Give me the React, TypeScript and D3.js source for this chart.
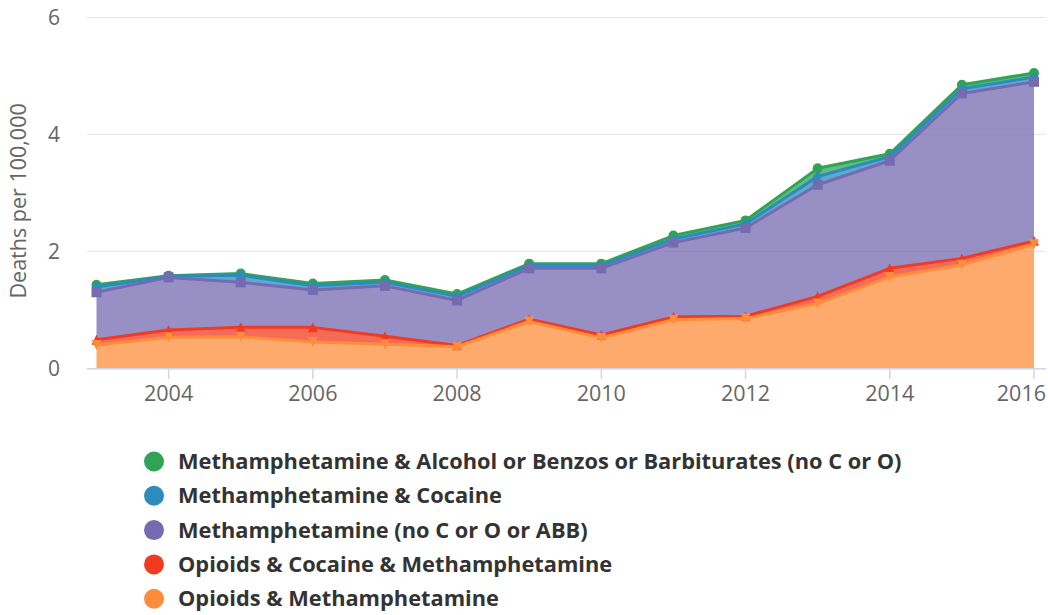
import React from "react";
import * as d3 from "d3";

const years = [2003, 2004, 2005, 2006, 2007, 2008, 2009, 2010, 2011, 2012, 2013, 2014, 2015, 2016];

// individual (non-cumulative) values, deaths per 100,000
const methAlcBenzBarb = [0.04, 0.01, 0.03, 0.04, 0.04, 0.04, 0.03, 0.03, 0.06, 0.06, 0.14, 0.05, 0.07, 0.07];
const methCocaine = [0.09, 0.02, 0.12, 0.07, 0.06, 0.07, 0.05, 0.05, 0.06, 0.07, 0.14, 0.07, 0.08, 0.08];
const methOnly = [0.81, 0.9, 0.77, 0.64, 0.86, 0.77, 0.87, 1.14, 1.27, 1.51, 1.91, 1.84, 2.82, 2.72];
const opioidsCocaineMeth = [0.09, 0.125, 0.16, 0.25, 0.14, 0.02, 0.04, 0.05, 0.05, 0.04, 0.12, 0.15, 0.11, 0.06];
const opioidsMeth = [0.4, 0.53, 0.54, 0.45, 0.41, 0.37, 0.8, 0.52, 0.83, 0.85, 1.11, 1.56, 1.77, 2.12];

const yTicks = [0, 2, 4, 6];
const xTicks = [2004, 2006, 2008, 2010, 2012, 2014, 2016];

type Sym = "circle" | "diamond" | "square" | "triangle" | "triangle-down";

// legend order (top of stack first)
const seriesDefs: { name: string; color: string; values: number[]; symbol: Sym }[] = [
  { name: "Methamphetamine & Alcohol or Benzos or Barbiturates (no C or O)", color: "#31a354", values: methAlcBenzBarb, symbol: "circle" },
  { name: "Methamphetamine & Cocaine", color: "#2b8cbe", values: methCocaine, symbol: "diamond" },
  { name: "Methamphetamine (no C or O or ABB)", color: "#756bb1", values: methOnly, symbol: "square" },
  { name: "Opioids & Cocaine & Methamphetamine", color: "#f03b20", values: opioidsCocaineMeth, symbol: "triangle" },
  { name: "Opioids & Methamphetamine", color: "#fd8d3c", values: opioidsMeth, symbol: "triangle-down" },
];

function symbolPath(s: Sym, cx: number, cy: number, r: number): string {
  switch (s) {
    case "circle":
      return `M${cx - r},${cy}A${r},${r} 0 1,0 ${cx + r},${cy}A${r},${r} 0 1,0 ${cx - r},${cy}Z`;
    case "diamond":
      return `M${cx},${cy - r}L${cx + r},${cy}L${cx},${cy + r}L${cx - r},${cy}Z`;
    case "square":
      return `M${cx - r},${cy - r}H${cx + r}V${cy + r}H${cx - r}Z`;
    case "triangle":
      return `M${cx},${cy - r}L${cx + r},${cy + r}L${cx - r},${cy + r}Z`;
    case "triangle-down":
      return `M${cx - r},${cy - r}L${cx + r},${cy - r}L${cx},${cy + r}Z`;
  }
}

export default function App() {
  const W = 1048;
  const H = 615;
  const plotLeft = 87;
  const plotRight = 1046;
  const x = d3.scaleLinear().domain([2003, 2016]).range([96.5, 1034]);
  const y = d3.scaleLinear().domain([0, 6]).range([368.3, 17.5]);

  const rows = years.map((yr, i) => {
    const r: any = { year: yr };
    seriesDefs.forEach((s, k) => (r["s" + k] = s.values[i]));
    return r;
  });
  const keys = seriesDefs.map((_, k) => "s" + k).reverse();
  const stacked = d3.stack<any>().keys(keys)(rows);
  const stackByKey: Record<string, d3.Series<any, string>> = {};
  stacked.forEach((s) => (stackByKey[s.key] = s));

  const area = d3
    .area<any>()
    .x((d) => x(d.data.year))
    .y0((d) => y(d[0]))
    .y1((d) => y(d[1]));
  const line = d3
    .line<any>()
    .x((d) => x(d.data.year))
    .y((d) => y(d[1]));

  const font = "'Open Sans', 'DejaVu Sans', sans-serif";

  return (
    <svg width={W} height={H} style={{ position: "absolute", left: 0, top: 0, background: "#fff" }} fontFamily={font}>
      {yTicks.filter((t) => t !== 0).map((t) => (
        <line key={t} x1={plotLeft} x2={plotRight} y1={y(t)} y2={y(t)} stroke="#e6e6e6" strokeWidth={1} />
      ))}
      {yTicks.map((t) => (
        <text key={t} x={60} y={y(t)} dy="0.35em" textAnchor="end" fontSize={21} fill="#666">
          {t}
        </text>
      ))}
      <text
        transform={`translate(26,${(y(0) + y(6)) / 2 + 8}) rotate(-90)`}
        textAnchor="middle"
        fontSize={21.5}
        fill="#666"
      >
        Deaths per 100,000
      </text>

      {seriesDefs.map((s, k) => {
        const st = stackByKey["s" + k];
        return (
          <g key={k}>
            <path d={area(st as any) || ""} fill={s.color} fillOpacity={0.75} />
            <path d={line(st as any) || ""} fill="none" stroke={s.color} strokeWidth={3} strokeLinejoin="round" />
            {st.map((d: any, i: number) => (
              <path key={i} d={symbolPath(s.symbol, x(d.data.year), y(d[1]), 5)} fill={s.color} />
            ))}
          </g>
        );
      })}

      <line x1={plotLeft} x2={plotRight} y1={368.8} y2={368.8} stroke="#ccd6eb" strokeWidth={1.5} />
      {xTicks.map((t, i) => {
        const last = i === xTicks.length - 1;
        return (
          <g key={t}>
            <line x1={x(t)} x2={x(t)} y1={369} y2={379} stroke="#ccd6eb" strokeWidth={1.5} />
            <text
              x={last ? 1046 : x(t)}
              y={401}
              textAnchor={last ? "end" : "middle"}
              fontSize={21.5}
              fill="#666"
            >
              {t}
            </text>
          </g>
        );
      })}

      {seriesDefs.map((s, k) => {
        const cy = 461.5 + k * 34.3;
        return (
          <g key={k}>
            <circle cx={154} cy={cy} r={10} fill={s.color} />
            <text x={178} y={cy} dy="0.35em" fontSize={21.8} fontWeight="bold" fill="#333">
              {s.name}
            </text>
          </g>
        );
      })}
    </svg>
  );
}
